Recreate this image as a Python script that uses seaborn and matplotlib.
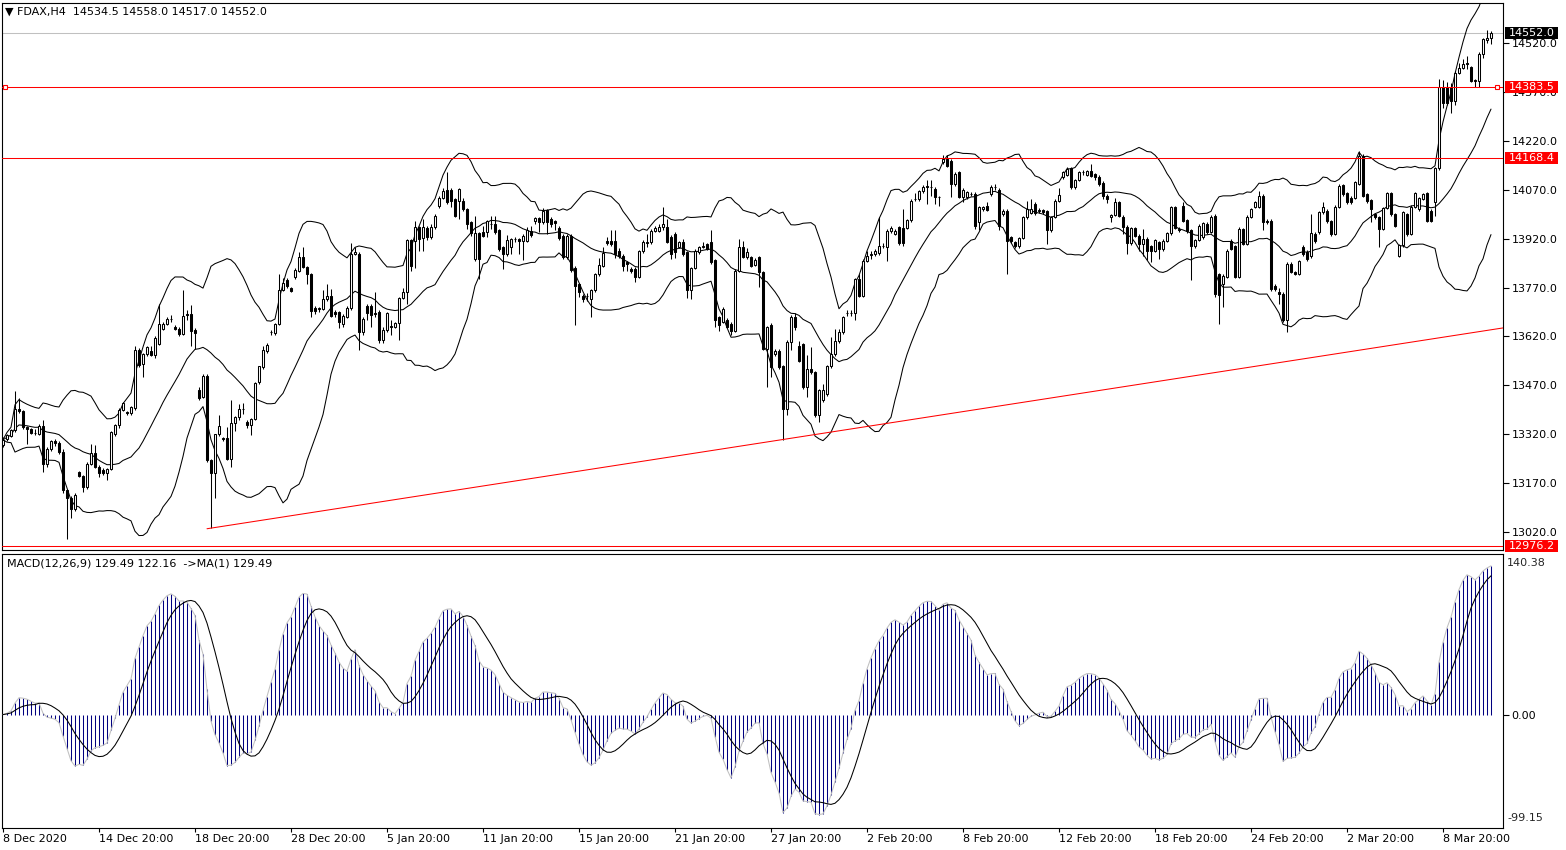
import numpy as np
import pandas as pd
import matplotlib
matplotlib.use("Agg")
import matplotlib.pyplot as plt
import matplotlib.transforms as mtransforms
from matplotlib.patches import Rectangle
import seaborn as sns

# ---------------- data (FDAX H4) ----------------
opens = [
    13286, 13305, 13314, 13332, 13398, 13391, 13342, 13336, 13325, 13322,
    13344, 13230, 13276, 13299, 13294, 13266, 13148, 13123, 13092, 13205,
    13191, 13159, 13230, 13261, 13220, 13210, 13200, 13213, 13320, 13347,
    13395, 13388, 13385, 13400, 13577, 13536, 13565, 13574, 13562, 13597,
    13643, 13658, 13674, 13650, 13643, 13628, 13689, 13689, 13641, 13457,
    13434, 13500, 13240, 13200, 13322, 13307, 13307, 13245, 13353, 13373,
    13398, 13358, 13347, 13368, 13480, 13526, 13575, 13633, 13630, 13659,
    13763, 13793, 13769, 13801, 13822, 13865, 13834, 13810, 13707, 13704,
    13704, 13734, 13743, 13694, 13694, 13657, 13681, 13707, 13873, 13873,
    13633, 13712, 13712, 13692, 13695, 13608, 13640, 13652, 13650, 13661,
    13739, 13756, 13916, 13914, 13955, 13922, 13953, 13926, 13957, 14021,
    14046, 14069, 14069, 14041, 14036, 14036, 14011, 13970, 13858, 13936,
    13940, 13940, 13965, 13965, 13946, 13894, 13873, 13894, 13918, 13919,
    13914, 13914, 13943, 13973, 13982, 13970, 14008, 13980, 13975, 13953,
    13929, 13863, 13929, 13830, 13781, 13745, 13745, 13735, 13761, 13810,
    13837, 13912, 13914, 13914, 13883, 13868, 13847, 13827, 13827, 13802,
    13881, 13907, 13909, 13944, 13944, 13955, 13955, 13924, 13934, 13895,
    13909, 13878, 13763, 13830, 13878, 13895, 13903, 13909, 13853, 13679,
    13664, 13669, 13659, 13638, 13822, 13893, 13863, 13863, 13840, 13863,
    13817, 13582, 13654, 13565, 13575, 13528, 13398, 13603, 13681, 13592,
    13597, 13465, 13521, 13511, 13378, 13426, 13442, 13528, 13565, 13607,
    13633, 13691, 13691, 13691, 13796, 13743, 13852, 13871, 13873, 13875,
    13898, 13893, 13942, 13934, 13956, 13952, 13952, 13977, 14041, 14041,
    14065, 14082, 14077, 14072, 14047, 14154, 14164, 14159, 14087, 14123,
    14047, 14047, 14057, 14057, 13970, 14011, 14021, 14057, 14077, 14069,
    13996, 14006, 13924, 13909, 13896, 13922, 13985, 14000, 14026, 14006,
    14008, 14004, 13945, 13987, 14036, 14108, 14116, 14136, 14077, 14100,
    14123, 14116, 14126, 14118, 14110, 14092, 14052, 13985, 13993, 14031,
    13987, 13957, 13906, 13951, 13929, 13904, 13919, 13896, 13883, 13909,
    13888, 13914, 13936, 14016, 13949, 14021, 13977, 13945, 13896, 13916,
    13926, 13965, 13940, 13990, 13812, 13781, 13802, 13914, 13896, 13802,
    13950, 13904, 13987, 14018, 14018, 14052, 13975, 13975, 13776, 13756,
    13751, 13669, 13843, 13817, 13812, 13894, 13880, 13868, 13934, 13940,
    14001, 14006, 13973, 13934, 14018, 14084, 14060, 14046, 14046, 14089,
    14174, 14057, 14038, 13996, 13985, 13950, 14014, 14059, 13994, 13868,
    13899, 13996, 13934, 14018, 14011, 14042, 14059, 14006, 14031, 14136,
    14385, 14385, 14385, 14342, 14429, 14444, 14460, 14445, 14406, 14404,
    14487, 14528, 14534.5,
]
highs = [
    13310, 13322, 13335, 13454, 13430, 13395, 13346, 13340, 13335, 13350,
    13363, 13280, 13303, 13305, 13300, 13275, 13150, 13130, 13140, 13208,
    13195, 13235, 13291, 13286, 13225, 13215, 13215, 13330, 13350, 13400,
    13420, 13392, 13405, 13590, 13585, 13568, 13590, 13592, 13620, 13718,
    13665, 13680, 13685, 13655, 13648, 13761, 13700, 13715, 13645, 13465,
    13505, 13505, 13245, 13322, 13378, 13312, 13342, 13426, 13375, 13414,
    13416, 13365, 13370, 13480, 13530, 13590, 13600, 13640, 13660, 13812,
    13800, 13800, 13772, 13830, 13878, 13893, 13836, 13815, 13712, 13710,
    13763, 13781, 13766, 13700, 13697, 13690, 13713, 13905, 13893, 13880,
    13680, 13718, 13720, 13756, 13700, 13650, 13695, 13670, 13665, 13742,
    13770, 13920, 13920, 13975, 13960, 13980, 13960, 13965, 13995, 14050,
    14075, 14123, 14075, 14045, 14075, 14045, 14015, 13975, 13990, 13940,
    13960, 13978, 13990, 13990, 13950, 13898, 13930, 13922, 13925, 13922,
    13935, 13955, 13960, 13985, 13986, 14014, 14012, 13985, 13978, 13958,
    13935, 13935, 13935, 13835, 13785, 13750, 13752, 13765, 13815, 13860,
    13895, 13925, 13945, 13945, 13890, 13872, 13852, 13832, 13832, 13885,
    13915, 13935, 13948, 13960, 13965, 14016, 13980, 13930, 13940, 13912,
    13920, 13882, 13834, 13888, 13898, 13909, 13908, 13945, 13858, 13683,
    13710, 13675, 13663, 13826, 13920, 13913, 13890, 13868, 13860, 13868,
    13822, 13652, 13660, 13580, 13580, 13532, 13608, 13686, 13691, 13607,
    13600, 13562, 13587, 13515, 13460, 13475, 13532, 13618, 13643, 13643,
    13684, 13702, 13702, 13800, 13811, 13856, 13881, 13882, 13888, 13985,
    13905, 13948, 13958, 13950, 13960, 14010, 13980, 14040, 14060, 14068,
    14083, 14100, 14100, 14077, 14052, 14175, 14175, 14165, 14123, 14128,
    14075, 14066, 14062, 14062, 14020, 14020, 14031, 14083, 14088, 14075,
    14010, 14010, 13928, 13912, 13926, 13990, 14036, 14041, 14031, 14015,
    14012, 14008, 13990, 14040, 14075, 14127, 14140, 14140, 14104, 14127,
    14130, 14130, 14149, 14122, 14114, 14096, 14056, 13996, 14046, 14036,
    13992, 13962, 13955, 13956, 13935, 13950, 13924, 13900, 13920, 13914,
    13918, 13940, 14020, 14020, 13955, 14031, 13980, 13950, 13920, 13964,
    13972, 13970, 13992, 13995, 13816, 13810, 13887, 13918, 13900, 13955,
    13954, 13991, 14015, 14036, 14067, 14056, 13980, 13980, 13780, 13770,
    13755, 13847, 13847, 13822, 13855, 13900, 13885, 13996, 13940, 14005,
    14031, 14010, 13977, 14022, 14086, 14088, 14064, 14050, 14097, 14190,
    14178, 14061, 14042, 14000, 13990, 14018, 14063, 14064, 13998, 13903,
    14005, 14000, 14022, 14063, 14049, 14061, 14064, 14010, 14140, 14409,
    14405, 14400, 14398, 14433, 14460, 14470, 14480, 14450, 14410, 14491,
    14535, 14560, 14558,
]
lows = [
    13280, 13300, 13310, 13328, 13385, 13335, 13291, 13320, 13318, 13318,
    13205, 13220, 13270, 13285, 13260, 13140, 13000, 13062, 13085, 13188,
    13143, 13152, 13225, 13215, 13190, 13195, 13180, 13210, 13315, 13340,
    13390, 13380, 13380, 13395, 13525, 13495, 13560, 13560, 13555, 13595,
    13640, 13655, 13665, 13640, 13620, 13625, 13670, 13592, 13582, 13425,
    13430, 13235, 13031, 13125, 13315, 13300, 13240, 13220, 13330, 13365,
    13383, 13340, 13317, 13365, 13475, 13520, 13570, 13625, 13625, 13655,
    13758, 13770, 13755, 13796, 13818, 13830, 13781, 13679, 13689, 13696,
    13700, 13730, 13680, 13680, 13645, 13650, 13677, 13700, 13870, 13577,
    13623, 13669, 13650, 13680, 13600, 13600, 13635, 13623, 13645, 13608,
    13735, 13720, 13822, 13830, 13883, 13883, 13916, 13920, 13950, 14015,
    14040, 14025, 14016, 13985, 13980, 14005, 13950, 13929, 13850, 13797,
    13925, 13924, 13950, 13935, 13883, 13827, 13868, 13872, 13910, 13873,
    13853, 13910, 13925, 13965, 13940, 13965, 13935, 13955, 13945, 13915,
    13858, 13858, 13818, 13654, 13740, 13725, 13730, 13679, 13755, 13805,
    13832, 13900, 13898, 13860, 13862, 13822, 13820, 13815, 13786, 13798,
    13876, 13895, 13904, 13940, 13940, 13945, 13905, 13858, 13860, 13890,
    13868, 13737, 13735, 13826, 13874, 13890, 13884, 13843, 13650, 13638,
    13660, 13645, 13625, 13634, 13818, 13859, 13858, 13832, 13835, 13771,
    13577, 13465, 13495, 13560, 13520, 13302, 13378, 13577, 13640, 13540,
    13460, 13434, 13505, 13372, 13358, 13420, 13438, 13524, 13560, 13600,
    13628, 13684, 13684, 13669, 13740, 13740, 13848, 13858, 13868, 13870,
    13890, 13852, 13938, 13930, 13900, 13898, 13948, 13972, 14036, 14036,
    14060, 14026, 14050, 14026, 14021, 14150, 14140, 14047, 14082, 14045,
    14031, 14042, 14050, 13950, 13945, 14006, 14005, 14052, 14070, 13945,
    13990, 13812, 13905, 13890, 13892, 13918, 13980, 13995, 13993, 13998,
    13995, 13904, 13940, 13982, 14032, 14104, 14112, 14073, 14073, 14096,
    14115, 14112, 14108, 14100, 14080, 14040, 14030, 13970, 13988, 13985,
    13935, 13873, 13900, 13925, 13883, 13868, 13853, 13848, 13878, 13858,
    13883, 13910, 13932, 13950, 13940, 13970, 13938, 13792, 13890, 13912,
    13920, 13935, 13936, 13740, 13659, 13710, 13798, 13884, 13798, 13798,
    13900, 13900, 13983, 14014, 14014, 13945, 13966, 13760, 13760, 13720,
    13665, 13633, 13813, 13808, 13808, 13868, 13852, 13862, 13905, 13935,
    13996, 13968, 13928, 13930, 14014, 14052, 14026, 14026, 14040, 14085,
    14048, 14030, 13970, 13980, 13894, 13945, 14010, 13988, 13955, 13864,
    13894, 13928, 13930, 14014, 14006, 14038, 13970, 13970, 13990, 14130,
    14320, 14330, 14305, 14330, 14424, 14440, 14440, 14400, 14384, 14384,
    14475, 14520, 14517,
]
closes = [
    13303, 13318, 13332, 13398, 13391, 13342, 13337, 13325, 13324, 13344,
    13230, 13276, 13299, 13294, 13266, 13148, 13123, 13092, 13133, 13191,
    13159, 13230, 13261, 13220, 13200, 13202, 13213, 13327, 13347, 13395,
    13416, 13384, 13403, 13577, 13531, 13565, 13587, 13562, 13616, 13658,
    13658, 13674, 13672, 13643, 13628, 13684, 13685, 13638, 13631, 13432,
    13500, 13240, 13200, 13322, 13346, 13304, 13245, 13353, 13373, 13398,
    13398, 13347, 13368, 13477, 13528, 13577, 13595, 13633, 13659, 13763,
    13783, 13776, 13759, 13824, 13865, 13834, 13810, 13699, 13699, 13706,
    13734, 13743, 13684, 13689, 13664, 13684, 13707, 13873, 13878, 13633,
    13674, 13691, 13687, 13688, 13608, 13640, 13692, 13650, 13661, 13739,
    13756, 13916, 13837, 13955, 13919, 13957, 13924, 13957, 13990, 14046,
    14067, 14031, 14034, 13990, 14072, 14011, 13965, 13936, 13936, 13858,
    13929, 13975, 13966, 13940, 13888, 13873, 13916, 13919, 13919, 13914,
    13929, 13945, 13930, 13982, 13970, 14006, 13970, 13965, 13967, 13922,
    13863, 13929, 13824, 13776, 13756, 13735, 13744, 13761, 13810, 13840,
    13875, 13906, 13904, 13873, 13868, 13837, 13842, 13820, 13802, 13881,
    13909, 13909, 13944, 13952, 13955, 13965, 13909, 13873, 13878, 13909,
    13873, 13761, 13830, 13883, 13893, 13895, 13888, 13848, 13669, 13654,
    13705, 13649, 13638, 13822, 13893, 13863, 13878, 13837, 13855, 13817,
    13582, 13648, 13526, 13575, 13526, 13398, 13603, 13681, 13648, 13544,
    13465, 13521, 13511, 13378, 13455, 13457, 13528, 13565, 13607, 13633,
    13679, 13691, 13691, 13796, 13745, 13852, 13868, 13871, 13883, 13898,
    13898, 13944, 13954, 13944, 13908, 13908, 13977, 14036, 14041, 14065,
    14079, 14077, 14077, 14047, 14047, 14164, 14143, 14087, 14118, 14049,
    14069, 14062, 14057, 13960, 14016, 14016, 14009, 14079, 14077, 13960,
    14006, 13914, 13914, 13896, 13922, 13987, 14011, 14011, 13998, 14006,
    14001, 13945, 13987, 14036, 14055, 14123, 14133, 14077, 14100, 14123,
    14123, 14126, 14113, 14108, 14087, 14052, 14041, 13993, 14031, 13990,
    13957, 13906, 13951, 13929, 13904, 13919, 13883, 13883, 13916, 13888,
    13914, 13936, 14016, 13953, 13945, 13975, 13943, 13896, 13916, 13960,
    13967, 13940, 13987, 13751, 13746, 13806, 13883, 13888, 13802, 13950,
    13904, 13987, 14011, 14031, 14052, 13970, 13970, 13766, 13766, 13749,
    13669, 13843, 13817, 13812, 13850, 13873, 13858, 13938, 13912, 14001,
    14016, 13973, 13934, 14018, 14082, 14057, 14031, 14031, 14093, 14174,
    14052, 14036, 14011, 13985, 13950, 14014, 14059, 13994, 13960, 13899,
    14001, 13934, 14018, 14059, 14045, 14057, 13975, 13975, 14136, 14385,
    14337, 14337, 14342, 14429, 14444, 14457, 14455, 14404, 14402, 14487,
    14531, 14536, 14552,
]

date_labels = ["8 Dec 2020", "14 Dec 20:00", "18 Dec 20:00", "28 Dec 20:00",
               "5 Jan 20:00", "11 Jan 20:00", "15 Jan 20:00", "21 Jan 20:00",
               "27 Jan 20:00", "2 Feb 20:00", "8 Feb 20:00", "12 Feb 20:00",
               "18 Feb 20:00", "24 Feb 20:00", "2 Mar 20:00", "8 Mar 20:00"]
price_ticks = [13020, 13170, 13320, 13470, 13620, 13770, 13920, 14070,
               14220, 14370, 14520]
red_levels = [14383.5, 14168.4, 12976.2]
last_price = 14552.0
trend_bars = [51, 375]
trend_prices = [13030, 13646]
macd_top, macd_bottom = 140.38, -99.15
header = "\u25BC FDAX,H4  14534.5 14558.0 14517.0 14552.0"
macd_header = "MACD(12,26,9) 129.49 122.16  ->MA(1) 129.49"

# ---------------- indicators ----------------
n = min(len(opens), len(highs), len(lows), len(closes))
df = pd.DataFrame({"bar": np.arange(n), "open": opens[:n], "high": highs[:n],
                   "low": lows[:n], "close": closes[:n]})
s = df["close"]
df["mid"] = s.rolling(20, min_periods=1).mean()
sd = s.rolling(20, min_periods=1).std(ddof=0)
df["upper"] = df["mid"] + 2 * sd
df["lower"] = df["mid"] - 2 * sd
df["macd"] = s.ewm(span=12, adjust=False).mean() - s.ewm(span=26, adjust=False).mean()
df["signal"] = df["macd"].rolling(9, min_periods=1).mean()

# ---------------- figure ----------------
sns.set_style("white")
plt.rcParams["font.family"] = ["DejaVu Sans"]

W, H = 1566, 850
fig = plt.figure(figsize=(W / 100, H / 100), dpi=100)
fx = lambda px: px / W
fy = lambda py: 1 - py / H
ax = fig.add_axes([fx(2), fy(550), fx(1503) - fx(2), fy(3) - fy(550)])
ax2 = fig.add_axes([fx(2), fy(828), fx(1503) - fx(2), fy(554) - fy(828)])

LW = 0.75
ymin, ymax = 12964.8, 14642.7
ax.set_xlim(-0.25, 375)
ax.set_ylim(ymin, ymax)

# Bollinger bands
for col in ["upper", "mid", "lower"]:
    sns.lineplot(data=df, x="bar", y=col, ax=ax, color="black", linewidth=LW,
                 estimator=None, legend=False, zorder=2)

# horizontal levels and trend line
ax.axhline(last_price, color="#C0C0C0", lw=LW, zorder=1)
for v in red_levels:
    ax.axhline(v, color="#FF0000", lw=LW, zorder=5)
ax.plot(trend_bars, trend_prices, color="#FF0000", lw=LW, zorder=5)
ax.plot([0.5, 373.5], [red_levels[0], red_levels[0]], ls="none", marker="s", ms=3.2,
        mfc="white", mec="#FF0000", mew=0.8, zorder=6, clip_on=False)

# candles
bull = df["close"] >= df["open"]
ax.vlines(df["bar"], df["low"], df["high"], color="black", lw=LW, zorder=3)
body_h = (df["close"] - df["open"]).abs().clip(lower=0.8)
body_b = df[["open", "close"]].min(axis=1)
ax.bar(df["bar"][bull], body_h[bull], bottom=body_b[bull], width=0.5,
       color="white", edgecolor="black", linewidth=LW, zorder=4)
ax.bar(df["bar"][~bull], body_h[~bull], bottom=body_b[~bull], width=0.5,
       color="black", edgecolor="black", linewidth=LW, zorder=4)

ax.set_xlabel("")
ax.set_ylabel("")
ax.yaxis.tick_right()
ax.set_yticks(price_ticks)
ax.set_yticklabels([f"{v:.1f}" for v in price_ticks])
ax.tick_params(axis="y", direction="out", length=4, width=0.8, labelsize=8, pad=2,
               colors="black", right=True, left=False)
ax.tick_params(axis="x", bottom=False, labelbottom=False)

# price label boxes on the right axis
px_per_price = (550 - 3) / (ymax - ymin)
box_h = 12 / px_per_price
tr = mtransforms.blended_transform_factory(fig.transFigure, ax.transData)
for v, c in [(last_price, "black")] + [(lv, "#FF0000") for lv in red_levels]:
    ax.add_patch(Rectangle((fx(1505), v - box_h / 2), fx(1558) - fx(1505), box_h,
                           transform=tr, facecolor=c, edgecolor="none",
                           clip_on=False, zorder=10))
    ax.text(fx(1509), v, f"{v:.1f}", transform=tr, color="white", fontsize=8,
            va="center", ha="left", zorder=11, clip_on=False)

# ---------------- MACD panel ----------------
ax2.set_xlim(-0.25, 375)
ax2.set_ylim(macd_bottom, macd_top)
ax2.vlines(df["bar"], 0, df["macd"], color="#000080", lw=LW, zorder=2)
sns.lineplot(data=df, x="bar", y="macd", ax=ax2, color="#C0C0C0", linewidth=LW,
             estimator=None, legend=False, zorder=3)
sns.lineplot(data=df, x="bar", y="signal", ax=ax2, color="black", linewidth=LW,
             estimator=None, legend=False, zorder=4)
ax2.set_xlabel("")
ax2.set_ylabel("")
ax2.yaxis.tick_right()
ax2.set_yticks([0.0])
ax2.set_yticklabels(["0.00"])
ax2.tick_params(axis="y", direction="out", length=4, width=0.8, labelsize=8, pad=2,
                colors="black", right=True, left=False)
tr2 = mtransforms.blended_transform_factory(fig.transFigure, fig.transFigure)
fig.text(fx(1507), fy(563), f"{macd_top:.2f}", fontsize=8, va="center", ha="left")
fig.text(fx(1507), fy(818), f"{macd_bottom:.2f}", fontsize=8, va="center", ha="left")

label_bars = [24 * k for k in range(len(date_labels))]
ax2.set_xticks(label_bars)
ax2.set_xticklabels(date_labels, ha="left")
ax2.tick_params(axis="x", direction="out", length=3, width=0.8, labelsize=8, pad=1.5,
                colors="black", bottom=True)

for a in (ax, ax2):
    for sp in a.spines.values():
        sp.set_color("black")
        sp.set_linewidth(0.8)
        sp.set_visible(True)

fig.text(fx(5), fy(12), header, fontsize=8, va="center", ha="left", color="black")
fig.text(fx(7), fy(564), macd_header, fontsize=8, va="center", ha="left", color="black")

fig.savefig("out.png", dpi=100)
